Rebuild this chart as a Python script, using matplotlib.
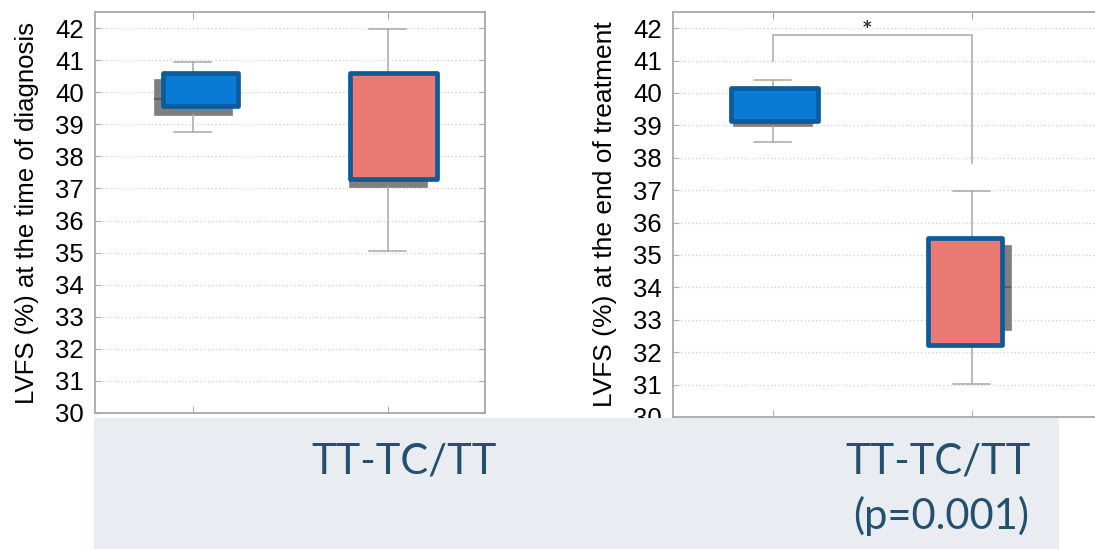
import matplotlib
matplotlib.use('Agg')
import matplotlib.pyplot as plt
from matplotlib.patches import Rectangle

# values (LVFS %)
groups = ['TT-TC', 'TT']
positions = [1, 2]

diag_whislo = [38.75, 35.05]
diag_q1 = [39.3, 37.05]
diag_med = [39.8, 38.9]
diag_q3 = [40.4, 40.5]
diag_whishi = [40.95, 41.97]
diag_front_lo = [39.58, 37.28]
diag_front_hi = [40.6, 40.6]

end_whislo = [38.5, 31.03]
end_q1 = [38.98, 32.67]
end_med = [39.5, 34.0]
end_q3 = [40.0, 35.32]
end_whishi = [40.4, 36.98]
end_front_lo = [39.15, 32.23]
end_front_hi = [40.16, 35.52]

sig_y = [41.0, 41.78, 41.78, 37.83]

W, H = 1095, 549
fig = plt.figure(figsize=(W / 100, H / 100), dpi=100)

blue = '#0a7bd4'
red = '#ec7a74'
edge = '#0c5b9b'
grey = '#7f7f7f'
line_c = '#a8a8a8'


def px_axes(l, r, t, b):
    return fig.add_axes([l / W, 1 - b / H, (r - l) / W, (b - t) / H])


def panel(ax, whislo, q1, med, q3, whishi, flo, fhi, fdx, fw, xlim):
    stats = []
    for i in range(len(groups)):
        stats.append(dict(label=groups[i], whislo=whislo[i], q1=q1[i], med=med[i],
                          q3=q3[i], whishi=whishi[i], fliers=[]))
    ax.bxp(stats, positions=positions, widths=0.4, patch_artist=True, showfliers=False,
           boxprops=dict(facecolor=grey, edgecolor=grey, linewidth=0.5),
           medianprops=dict(color='#5e5e5e', linewidth=1.5),
           whiskerprops=dict(color=line_c, linewidth=1.1),
           capprops=dict(color=line_c, linewidth=1.1), capwidths=0.19)
    for i, c in enumerate([blue, red]):
        x0 = positions[i] + fdx[i] - fw[i] / 2
        ax.add_patch(Rectangle((x0, flo[i]), fw[i], fhi[i] - flo[i], facecolor=c,
                               edgecolor=edge, linewidth=3.4, joinstyle='round', zorder=5))
    ax.set_xlim(*xlim)
    ax.set_ylim(30, 42.5)
    ax.set_yticks(range(30, 43))
    ax.set_xticks(positions)
    ax.set_xticklabels([])
    ax.tick_params(axis='y', direction='in', length=4, width=0.8, color='#b0b0b0',
                   labelsize=18.5, pad=8, right=True, labelfontfamily='Liberation Sans')
    ax.tick_params(axis='x', direction='in', length=5, width=0.8, color='#b0b0b0', top=True)
    ax.grid(axis='y', linestyle=(0, (1, 2)), color='#cfcfcf', linewidth=0.9)
    ax.set_axisbelow(True)
    for s in ax.spines.values():
        s.set_color('#a8a8a8')
        s.set_linewidth(1.3)


ax1 = px_axes(95, 485, 12, 413)
panel(ax1, diag_whislo, diag_q1, diag_med, diag_q3, diag_whishi, diag_front_lo, diag_front_hi,
      [0.041, 0.031], [0.385, 0.446], (0.5, 2.5))
fig.text(27 / W, 1 - 213 / H, 'LVFS (%) at the time of diagnosis', rotation=90, ha='center',
         va='center', fontsize=18.5, family='Liberation Sans')

ax2 = px_axes(673, 1110, 12, 417)
panel(ax2, end_whislo, end_q1, end_med, end_q3, end_whishi, end_front_lo, end_front_hi,
      [0.01, -0.035], [0.442, 0.372], (0.5, 0.5 + 437 / 199))
fig.text(605 / W, 1 - 214 / H, 'LVFS (%) at the end of treatment', rotation=90, ha='center',
         va='center', fontsize=19, family='Liberation Sans')
ax2.plot([1, 1, 2, 2], sig_y, color=line_c, linewidth=1.1, zorder=6)
ax2.text(1.477, 42.0, '*', ha='center', va='center', fontsize=12, fontweight='bold', color='#333333')

# caption band
fig.patches.append(Rectangle((94 / W, 0), (1059 - 94) / W, 131 / H, transform=fig.transFigure,
                             facecolor='#e9edf1', edgecolor='none', zorder=10))
txt_c = '#24506f'
fig.text(404 / W, 1 - 473 / H, 'TT-TC/TT', ha='center', va='baseline', fontsize=30,
         family='Lato', color=txt_c, zorder=11)
fig.text(1031 / W, 1 - 473 / H, 'TT-TC/TT', ha='right', va='baseline', fontsize=30,
         family='Lato', color=txt_c, zorder=11)
fig.text(1029 / W, 1 - 529 / H, '(p=0.001)', ha='right', va='baseline', fontsize=30,
         family='Lato', color=txt_c, zorder=11)

fig.savefig('out.png', dpi=100)
